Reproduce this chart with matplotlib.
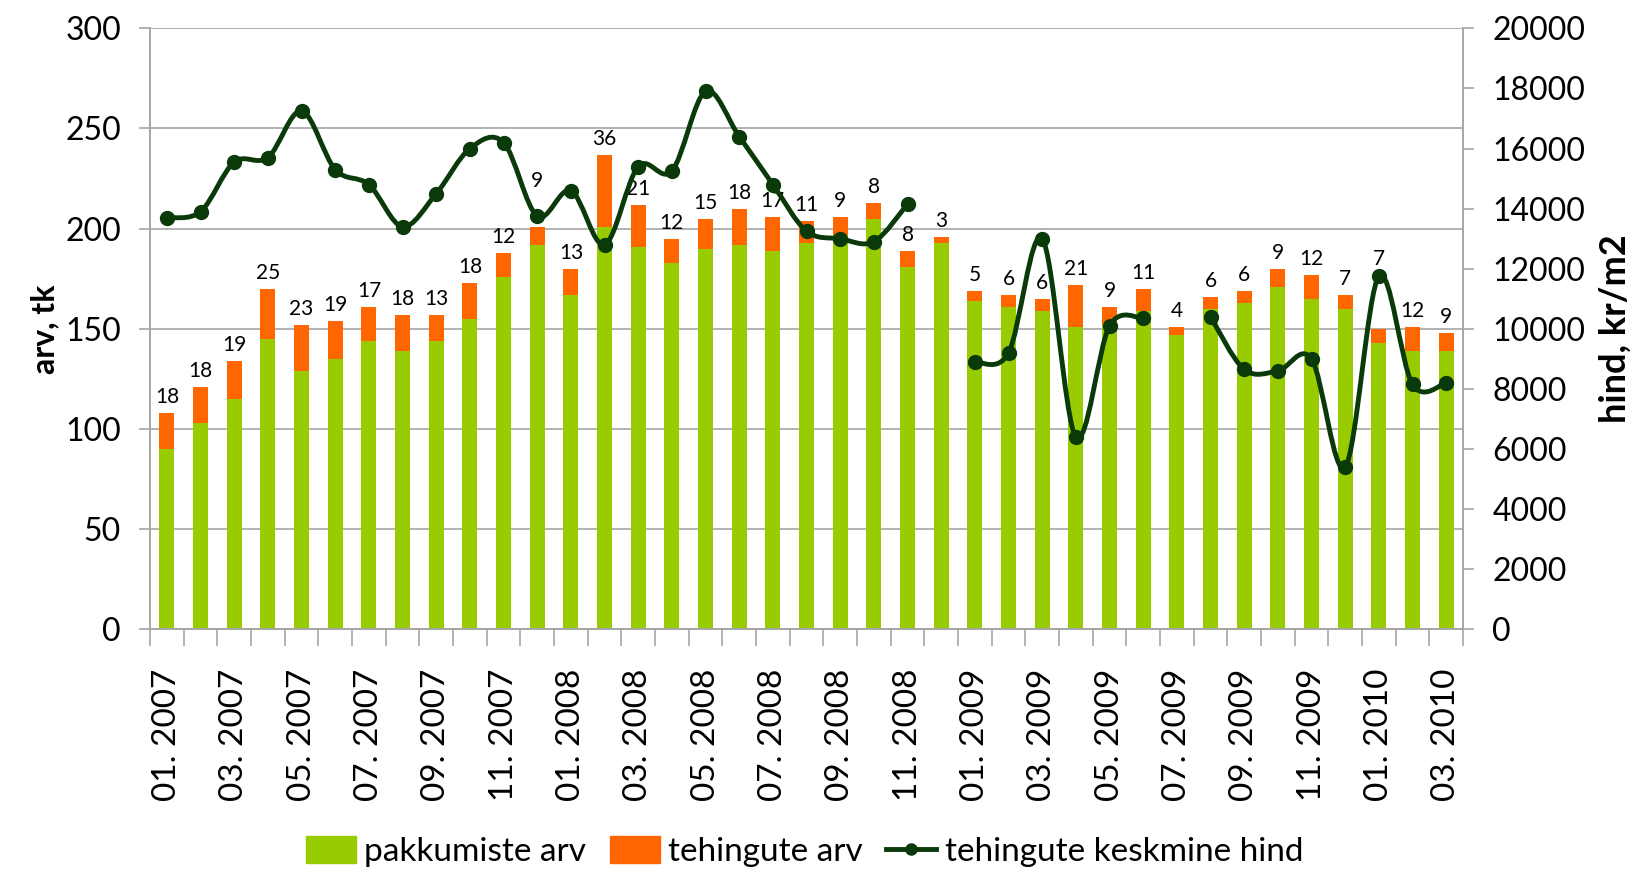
import matplotlib
matplotlib.use("Agg")
import matplotlib.pyplot as plt
import numpy as np
from matplotlib.path import Path
from matplotlib.patches import PathPatch, Patch
from matplotlib.lines import Line2D

months = ["01. 2007", "02. 2007", "03. 2007", "04. 2007", "05. 2007", "06. 2007",
          "07. 2007", "08. 2007", "09. 2007", "10. 2007", "11. 2007", "12. 2007",
          "01. 2008", "02. 2008", "03. 2008", "04. 2008", "05. 2008", "06. 2008",
          "07. 2008", "08. 2008", "09. 2008", "10. 2008", "11. 2008", "12. 2008",
          "01. 2009", "02. 2009", "03. 2009", "04. 2009", "05. 2009", "06. 2009",
          "07. 2009", "08. 2009", "09. 2009", "10. 2009", "11. 2009", "12. 2009",
          "01. 2010", "02. 2010", "03. 2010"]
pakkumiste = [90, 103, 115, 145, 129, 135, 144, 139, 144, 155, 176, 192,
              167, 201, 191, 183, 190, 192, 189, 193, 197, 205, 181, 193,
              164, 161, 159, 151, 152, 159, 147, 160, 163, 171, 165, 160,
              143, 139, 139]
tehingute = [18, 18, 19, 25, 23, 19, 17, 18, 13, 18, 12, 9,
             13, 36, 21, 12, 15, 18, 17, 11, 9, 8, 8, 3,
             5, 6, 6, 21, 9, 11, 4, 6, 6, 9, 12, 7,
             7, 12, 9]
nan = np.nan
hind = [13700, 13900, 15550, 15700, 17250, 15300, 14800, 13400, 14500, 16000, 16200, 13750,
        14600, 12800, 15400, 15250, 17900, 16400, 14800, 13250, 13000, 12900, 14150, nan,
        8900, 9200, 13000, 6400, 10100, 10350, nan, 10400, 8650, 8600, 9000, 5400,
        11750, 8150, 8200]

GREEN = "#99CC00"
ORANGE = "#FF6600"
DARK = "#0A3A0A"
GRID = "#A6A6A6"
FONT = "Lato"

plt.rcParams["font.family"] = [FONT, "DejaVu Sans"]

x = np.arange(len(months))
pak = np.array(pakkumiste)
teh = np.array(tehingute)
h = np.array(hind, dtype=float)

fig = plt.figure(figsize=(16.42, 8.71), dpi=100)
ax = fig.add_axes([0.0914, 0.2774, 0.891 - 0.0914, 0.9675 - 0.2774])
ax2 = ax.twinx()

ax.bar(x, pak, width=0.45, color=GREEN, zorder=2)
ax.bar(x, teh, width=0.45, bottom=pak, color=ORANGE, zorder=2)
# a couple of labels were moved above the line in the original
lift = {11: 15, 36: 27}
for i, (xi, b, t) in enumerate(zip(x, pak, teh)):
    ax.text(xi, b + t + 3 + lift.get(i, 0), str(t), ha="center", va="bottom",
            fontsize=15, zorder=3)

ax.set_xlim(-0.5, len(months) - 0.5)
ax.set_ylim(0, 300)
ax.set_yticks(np.arange(0, 301, 50))
ax.yaxis.grid(True, color=GRID, linewidth=1.2)
ax.set_axisbelow(True)
ax.set_xticks(x[::2])
ax.set_xticklabels(months[::2], rotation=90, fontsize=24)
ax.set_xticks(np.arange(-0.5, len(months), 1), minor=True)
ax.tick_params(axis="x", which="major", length=0, pad=28)
ax.tick_params(axis="x", which="minor", length=12, color=GRID, width=1.2)
ax.tick_params(axis="y", labelsize=23, length=8, color=GRID, width=1.2, pad=13)
ax.set_ylabel("arv, tk", fontsize=23, fontweight="bold", labelpad=4)

for s in ["top"]:
    ax.spines[s].set_visible(False)
    ax2.spines[s].set_visible(False)
for s in ["left", "right", "bottom"]:
    ax.spines[s].set_color(GRID)
    ax.spines[s].set_linewidth(1.2)
    ax2.spines[s].set_color(GRID)
    ax2.spines[s].set_linewidth(1.2)

# smooth line (Excel-style), drawn as bezier segments per contiguous run
verts, codes = [], []
valid = ~np.isnan(h)
runs, cur = [], []
for i in range(len(h)):
    if valid[i]:
        cur.append(i)
    else:
        if cur:
            runs.append(cur)
        cur = []
if cur:
    runs.append(cur)
for run in runs:
    px = x[run].astype(float)
    py = h[run]
    n = len(run)
    verts.append((px[0], py[0]))
    codes.append(Path.MOVETO)
    for k in range(n - 1):
        k0 = max(k - 1, 0)
        k3 = min(k + 2, n - 1)
        c1 = (px[k] + (px[k + 1] - px[k0]) / 6, py[k] + (py[k + 1] - py[k0]) / 6)
        c2 = (px[k + 1] - (px[k3] - px[k]) / 6, py[k + 1] - (py[k3] - py[k]) / 6)
        verts += [c1, c2, (px[k + 1], py[k + 1])]
        codes += [Path.CURVE4] * 3
ax2.add_patch(PathPatch(Path(verts, codes), facecolor="none", edgecolor=DARK,
                        linewidth=3.5, zorder=4))
ax2.plot(x, h, linestyle="none", marker="o", markersize=10, color=DARK, zorder=5)

ax2.set_ylim(0, 20000)
ax2.set_yticks(np.arange(0, 20001, 2000))
ax2.tick_params(axis="y", labelsize=23, length=8, color=GRID, width=1.2, pad=13)
ax2.set_ylabel("hind, kr/m2", fontsize=26, fontweight="bold", labelpad=10)

handles = [Patch(color=GREEN), Patch(color=ORANGE),
           Line2D([], [], color=DARK, linewidth=3.5, marker="o", markersize=8)]
labels = ["pakkumiste arv", "tehingute arv", "tehingute keskmine hind"]
fig.legend(handles, labels, loc="lower center", bbox_to_anchor=(0.49, -0.03), ncol=3,
           frameon=False, fontsize=24, handlelength=1.5, handleheight=0.85,
           handletextpad=0.25, columnspacing=0.7)

fig.savefig("out.png", dpi=100)
